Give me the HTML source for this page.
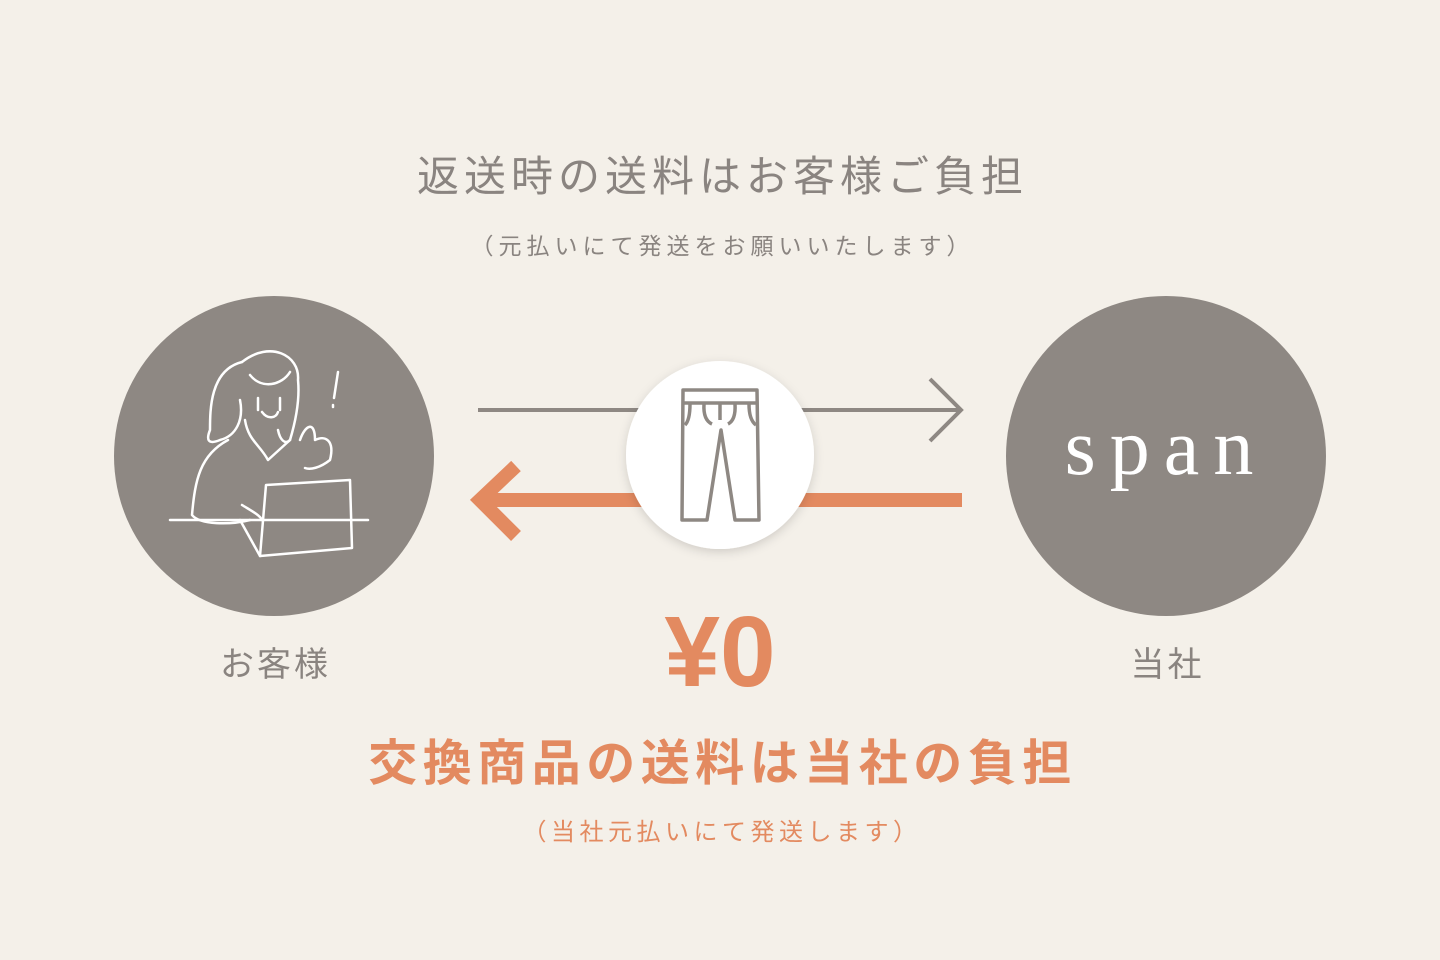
<!DOCTYPE html>
<html><head><meta charset="utf-8"><style>
html,body{margin:0;padding:0}
body{width:1440px;height:960px;background:#f4f0e9;position:relative;overflow:hidden;font-family:"Liberation Sans","Noto Sans CJK JP",sans-serif}
.t{position:absolute;left:0;width:1440px;text-align:center;white-space:nowrap}
</style></head><body>
<div class="t" style="top:143px;font-size:42px;color:#8a8480;letter-spacing:5px;text-indent:5px">返送時の送料はお客様ご負担</div>
<div class="t" style="top:227px;font-size:23px;color:#8a8480;letter-spacing:5px;text-indent:5px">（元払いにて発送をお願いいたします）</div>
<svg style="position:absolute;left:0;top:0" width="1440" height="960">
<defs><filter id="s" x="-20%" y="-20%" width="140%" height="140%"><feDropShadow dx="0" dy="3" stdDeviation="5" flood-opacity="0.15"/></filter></defs>
<circle cx="274" cy="456" r="160" fill="#8e8883"/>
<circle cx="1166" cy="456" r="160" fill="#8e8883"/>
<line x1="478" y1="410" x2="960" y2="410" stroke="#8e8883" stroke-width="4"/>
<polyline points="930,379 961,410 930,441" fill="none" stroke="#8e8883" stroke-width="4"/>
<line x1="490" y1="500" x2="962" y2="500" stroke="#e38a60" stroke-width="14"/>
<polyline points="516,466 480,500 516,536" fill="none" stroke="#e38a60" stroke-width="14"/>
<circle cx="720" cy="455" r="94" fill="#fff" filter="url(#s)"/>
<g fill="none" stroke="#8e8883" stroke-width="3.5" stroke-linejoin="round">
<path d="M683 390 H757 L759 520 H735 L721 430 L707 520 H682 Z"/>
<line x1="684" y1="403" x2="757" y2="403"/>
<path d="M690 404 Q690 420 685 425 M749 404 Q749 420 756 425 M704 404 Q703 420 712 424 M735 404 Q736 420 728 424"/>
<line x1="720" y1="404" x2="720" y2="420"/>
</g>
<g fill="none" stroke="#fff" stroke-width="2.5" stroke-linecap="round" stroke-linejoin="round">
<path d="M170 520 H368"/>
<path d="M242 362 C210 370 210 410 210 430 C206 440 208 445 220 440 C236 436 244 420 240 400"/>
<path d="M242 362 C270 340 300 355 298 380 C300 400 296 420 290 440 C285 445 280 440 278 430"/>
<path d="M250 375 C262 390 282 385 290 372"/>
<path d="M258 398 L258 410 M280 398 L280 410"/>
<path d="M262 412 C268 420 276 418 278 412"/>
<path d="M245 420 C248 440 260 445 268 460 L290 440"/>
<path d="M228 440 C200 455 195 480 192 515 C200 525 230 525 250 520"/>
<path d="M300 440 C305 425 315 420 315 440 C325 435 335 440 330 460 C320 468 310 470 305 468"/>
<path d="M338 372 L334 398 M333 405 L333 407"/>
<path d="M266 485 L350 480 L352 548 L260 556 Z"/>
<path d="M240 520 L260 556"/>
<path d="M242 505 C250 510 260 515 262 520"/>
</g>
<text x="1166" y="474" text-anchor="middle" font-family="Liberation Serif,serif" font-size="80" fill="#fff" letter-spacing="14">span</text>
</svg>
<div class="t" style="left:174px;width:200px;top:637px;font-size:34px;color:#8a8480;letter-spacing:3px;text-indent:3px">お客様</div>
<div class="t" style="left:1066px;width:200px;top:637px;font-size:34px;color:#8a8480;letter-spacing:3px;text-indent:3px">当社</div>
<div class="t" style="top:595px;font-size:100px;font-weight:bold;color:#e38a60">¥0</div>
<div class="t" style="top:724px;font-size:49px;font-weight:bold;color:#e38a60;letter-spacing:5.5px;text-indent:5px">交換商品の送料は当社の負担</div>
<div class="t" style="top:812px;font-size:24px;color:#e38a60;letter-spacing:4.5px;text-indent:4px">（当社元払いにて発送します）</div>
</body></html>
